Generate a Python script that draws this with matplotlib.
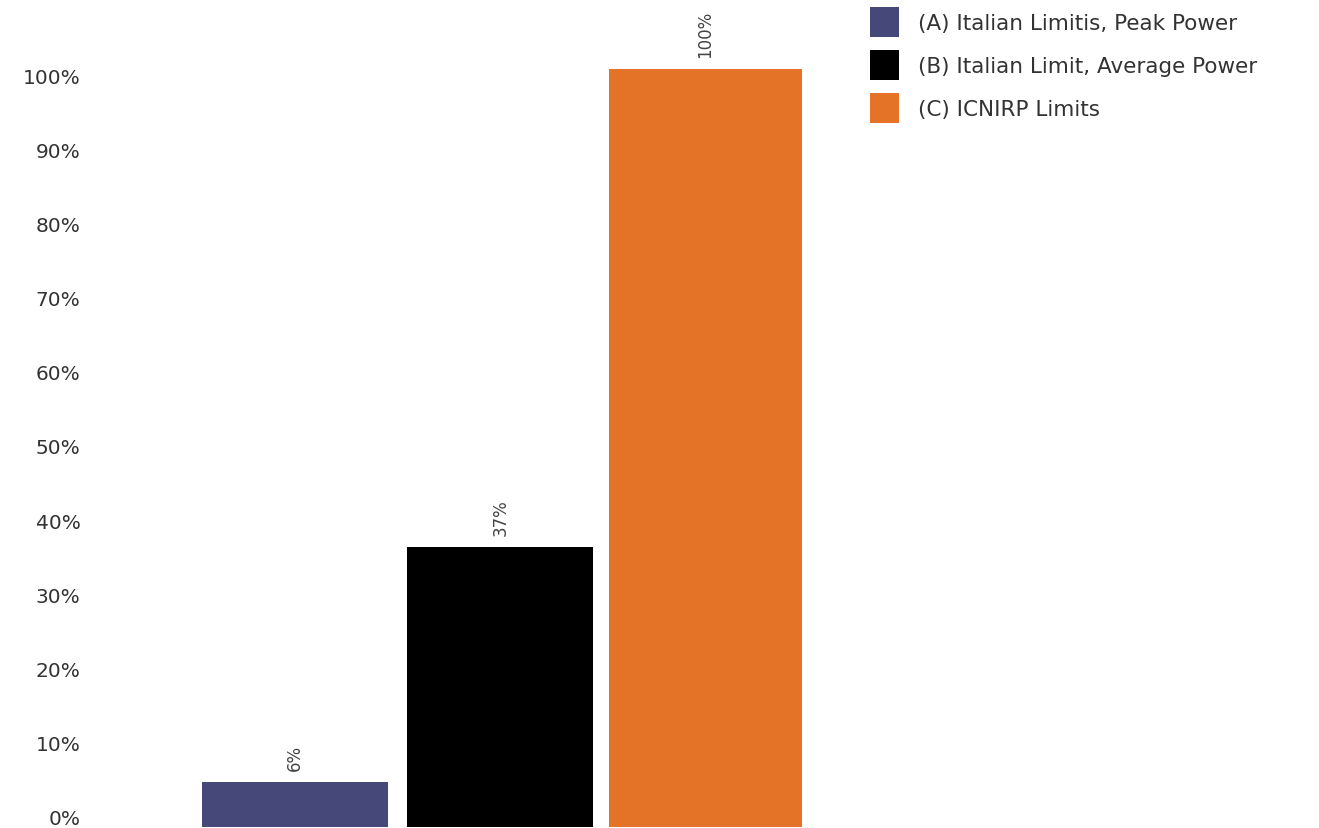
import matplotlib
matplotlib.use("Agg")
import matplotlib.pyplot as plt
from matplotlib.patches import Patch

categories = ["(A) Italian Limitis, Peak Power",
              "(B) Italian Limit, Average Power",
              "(C) ICNIRP Limits"]
values = [6, 37, 100]
bar_labels = ["6%", "37%", "100%"]
colors = ["#454878", "#000000", "#E47327"]
tick_values = [0, 10, 20, 30, 40, 50, 60, 70, 80, 90, 100]
tick_labels = [f"{v}%" for v in tick_values]

plt.rcParams['font.family'] = ['DejaVu Sans']

W, H = 1319, 829
fig = plt.figure(figsize=(W / 100, H / 100), dpi=100)

left_px = 100
pos = [left_px / W, 1 / H, (W - left_px) / W, (H - 1) / H]
ax = fig.add_axes(pos)
x = [0, 1, 2]
widths = [0.905, 0.905, 0.94]
bars = ax.bar(x, values, width=widths, color=colors)
ax.bar_label(bars, labels=bar_labels, rotation=90, padding=8.5,
             fontsize=12, color="#444444")
px_per_unit = 205.3
ax.set_xlim((left_px - 295) / px_per_unit, (W - 295) / px_per_unit)
ax.set_ylim(0, 828 / 7.58)
ax.axis("off")

# tick label axis
ax2 = fig.add_axes(pos, frameon=False)
ax2.set_ylim(-10 / 7.42, 818 / 7.42)
ax2.set_yticks(tick_values)
ax2.set_yticklabels(tick_labels, fontsize=14.5, color="#333333")
ax2.set_xticks([])
ax2.tick_params(axis="y", length=0, pad=14)
for s in ax2.spines.values():
    s.set_visible(False)
ax2.patch.set_alpha(0)

handles = [Patch(facecolor=c, edgecolor="none") for c in colors]
fig.legend(handles, categories, loc="upper left",
           bbox_to_anchor=(870 / W, 1 - 8 / H), frameon=False,
           fontsize=15.5, handlelength=1.35, handleheight=1.75,
           handletextpad=0.9, labelspacing=0.62, borderaxespad=0,
           borderpad=0, labelcolor="#333333")

fig.savefig("out.png", dpi=100)
